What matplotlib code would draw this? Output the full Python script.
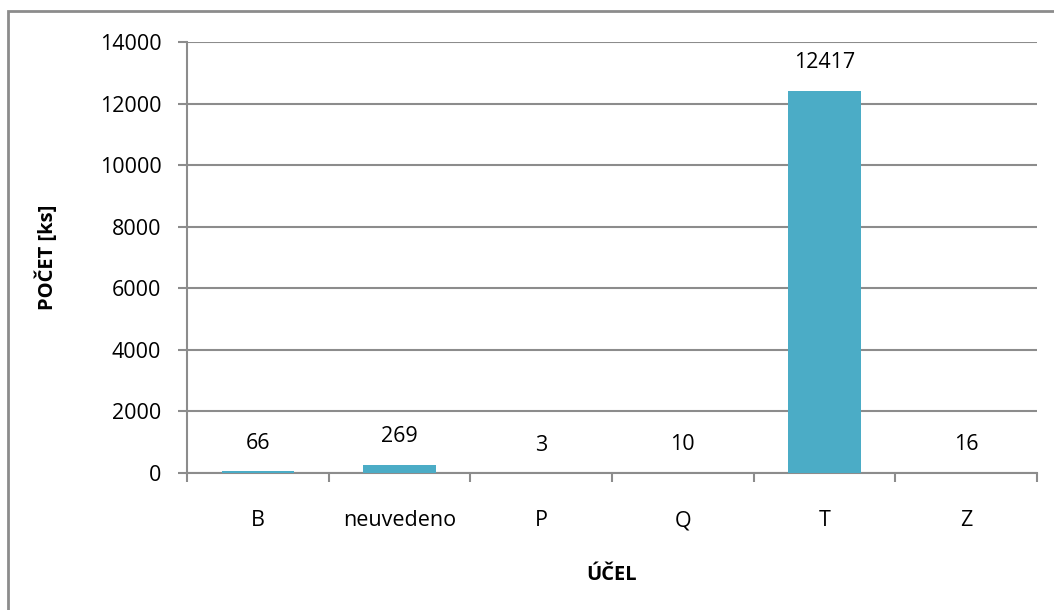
import numpy as np
import matplotlib.pyplot as plt
from matplotlib.patches import Rectangle
from matplotlib.ticker import FixedLocator, NullFormatter

categories = ["B", "neuvedeno", "P", "Q", "T", "Z"]
counts = [66, 269, 3, 10, 12417, 16]
yticks = [0, 2000, 4000, 6000, 8000, 10000, 12000, 14000]

plt.rcParams['font.family'] = ['Open Sans', 'DejaVu Sans']

fig = plt.figure(figsize=(10.54, 6.10), dpi=100)
ax = fig.add_axes([187 / 1054, 137 / 610, 850 / 1054, 431 / 610])

# outer chart border (only left/top visible, rest runs off the image)
fig.patches.append(Rectangle((8 / 1054, -0.1), 1.2, (610 - 11) / 610 + 0.1,
                             transform=fig.transFigure, fill=False,
                             edgecolor='#8c8c8c', linewidth=2))

fs = 15.5
x = np.arange(len(categories))
bars = ax.bar(x, counts, width=0.51, color='#4bacc6', zorder=3)
for xi, c in zip(x, counts):
    ax.annotate(str(c), (xi, c), xytext=(0, 20), textcoords='offset points',
                ha='center', va='center', fontsize=fs)

ax.set_xlim(-0.5, len(categories) - 0.5)
ax.set_ylim(0, 14000)
ax.set_yticks(yticks)
ax.set_yticklabels([str(t) for t in yticks], fontsize=fs)
ax.set_xticks(x)
ax.set_xticklabels(categories, fontsize=fs)
ax.tick_params(axis='x', length=0, pad=27)
ax.xaxis.set_minor_locator(FixedLocator(np.arange(-0.5, len(categories), 1.0)))
ax.xaxis.set_minor_formatter(NullFormatter())
ax.tick_params(axis='x', which='minor', length=6.5, width=1.5, color='#8c8c8c')
ax.tick_params(axis='y', length=6.5, width=1.5, color='#8c8c8c', pad=12)

ax.grid(axis='y', color='#8c8c8c', linewidth=1.5, zorder=0)
ax.set_axisbelow(True)
for s in ['top', 'right']:
    ax.spines[s].set_visible(False)
for s in ['left', 'bottom']:
    ax.spines[s].set_color('#8c8c8c')
    ax.spines[s].set_linewidth(1.5)

ax.set_ylabel("POČET [ks]", fontsize=14.5, fontweight='bold', labelpad=30)
ax.set_xlabel("ÚČEL", fontsize=14.5, fontweight='bold', labelpad=24)

fig.savefig("out.png", dpi=100)
